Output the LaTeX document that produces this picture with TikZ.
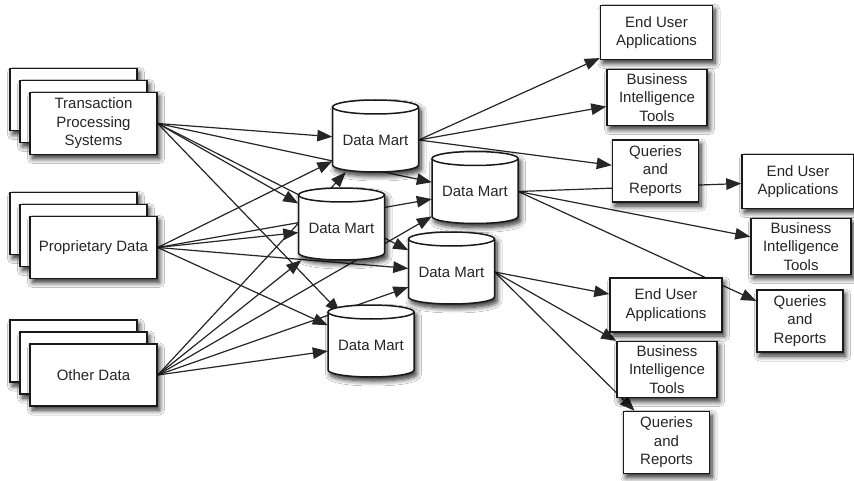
\documentclass[tikz,border=0pt]{standalone}
\usepackage{fontspec}
\setmainfont{Liberation Sans}
\usetikzlibrary{arrows.meta,shadows.blur}
\pgfdeclarelayer{bg}
\pgfsetlayers{bg,main}

\tikzset{
  lbl/.style={font=\fontsize{15}{18.5}\selectfont, align=center, text=black!85},
  boxshadow/.style={blur shadow={shadow xshift=2.5pt, shadow yshift=-4pt,
      shadow blur radius=5pt, shadow opacity=85, shadow blur steps=8}},
  srcbox/.style={draw=black!90, line width=1.5pt, fill=white, minimum width=127pt,
      minimum height=62pt, inner sep=0pt, boxshadow, lbl},
  outbox/.style={draw=black!90, line width=1.5pt, fill=white, inner sep=0pt, boxshadow, lbl},
  eua/.style={outbox, minimum width=112pt, minimum height=54pt},
  bit/.style={outbox, minimum width=100pt, minimum height=56pt},
  qr/.style={outbox, minimum width=86pt, minimum height=62pt},
  dmnode/.style={lbl, minimum width=86pt, minimum height=64pt, inner sep=0pt},
  link/.style={draw=black!85, line width=1.2pt, -{Triangle[length=15pt,width=11.5pt]}},
}

% a stack of three source documents; the front one carries the name and text
\newcommand\srcstack[4]{%
  \node[srcbox] (#1-b) at (#2-20,#3-24) {};
  \node[srcbox] (#1-m) at (#2-10,#3-12) {};
  \node[srcbox] (#1) at (#2,#3) {#4};
}

% a data mart drawn as a cylinder
\newcommand\dmart[3]{%
  \path[draw=black!90, line width=1.5pt, fill=white, boxshadow]
    (#2-43,#3-29) -- (#2-43,#3+29)
    arc[start angle=180, end angle=360, x radius=43pt, y radius=7pt]
    -- (#2+43,#3-29)
    arc[start angle=0, end angle=180, x radius=43pt, y radius=7pt] -- cycle;
  \draw[black!90, line width=1.5pt] (#2-43,#3-29)
    arc[start angle=180, end angle=360, x radius=43pt, y radius=7pt];
  \node[dmnode] (#1) at (#2,#3+4) {Data Mart};
}

\begin{document}
\begin{tikzpicture}[x=1pt, y=-1pt]
\useasboundingbox (0,0) rectangle (854,481);

% sources
\srcstack{tps}{93.5}{123.5}{Transaction\\Processing\\Systems}
\srcstack{prop}{93.5}{247.5}{Proprietary Data}
\srcstack{oth}{93.5}{375}{Other Data}

% data marts
\dmart{dm1}{375.5}{136}
\dmart{dm3}{475}{187.5}
\dmart{dm2}{341.5}{224}
\dmart{dm4}{451.5}{268}
\dmart{dm5}{371}{341}

% consumers
\node[eua] (eua1) at (656.5,32.5) {End User\\Applications};
\node[bit] (bit1) at (657,97.5) {Business\\Intelligence\\Tools};
\node[qr]  (qr1)  at (655.5,171) {Queries\\and\\Reports};
\node[eua] (eua2) at (798,181.5) {End User\\Applications};
\node[bit] (bit2) at (801,246.5) {Business\\Intelligence\\Tools};
\node[eua] (eua3) at (666,305) {End User\\Applications};
\node[qr]  (qr2)  at (800,321) {Queries\\and\\Reports};
\node[bit] (bit3) at (667,369.5) {Business\\Intelligence\\Tools};
\node[qr]  (qr3)  at (666.5,442.5) {Queries\\and\\Reports};

\begin{pgfonlayer}{bg}
  \fill[white] (0,0) rectangle (854,481);
  % every source feeds every data mart
  \foreach \s in {tps,prop,oth}
    \foreach \d in {dm1,dm2,dm3,dm4,dm5}
      \draw[link] (\s.east) -- (\d);
  % data marts feed the consumers
  \foreach \t in {eua1,bit1,qr1} \draw[link] (dm1.east) -- (\t);
  \foreach \t in {eua2,bit2,qr2} \draw[link] (dm3.east) -- (\t);
  \foreach \t in {eua3,bit3,qr3} \draw[link] (dm4.east) -- (\t);
\end{pgfonlayer}
\end{tikzpicture}
\end{document}
